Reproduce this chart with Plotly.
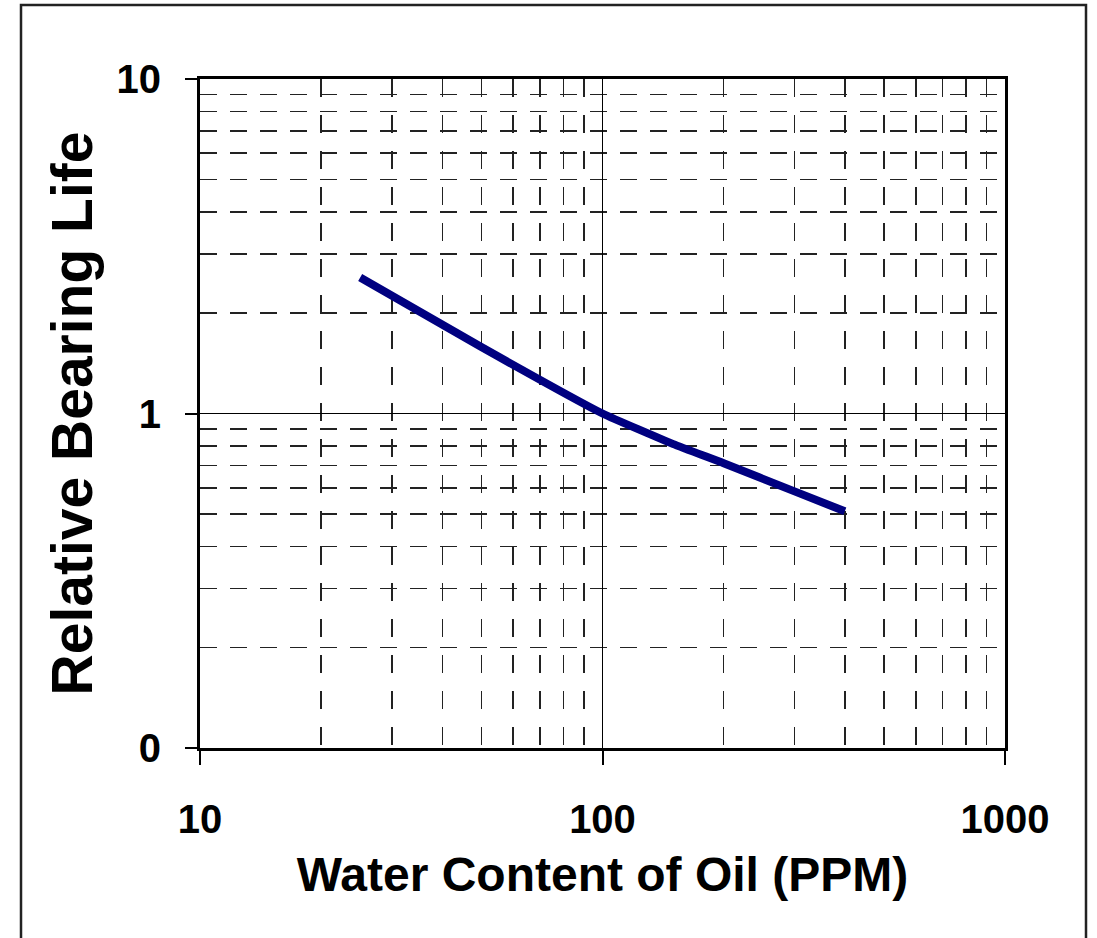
import plotly.graph_objects as go

# Data (log-log)
water_ppm = [25, 50, 100, 150, 200, 300, 400]
relative_life = [2.55, 1.58, 1.0, 0.81, 0.71, 0.585, 0.51]

x_tickvals = [10, 100, 1000]
x_ticktext = ["10", "100", "1000"]
y_tickvals = [0.1, 1, 10]
y_ticktext = ["0", "1", "10"]

x_minor = [m * d for d in (10, 100) for m in range(2, 10)]
y_minor = [m * d for d in (0.1, 1) for m in range(2, 10)]

FONT = "Liberation Sans, Arial, sans-serif"

fig = go.Figure()
fig.add_trace(go.Scatter(
    x=water_ppm, y=relative_life, mode="lines",
    line=dict(color="#000080", width=8, shape="spline", smoothing=0.4),
    showlegend=False, hoverinfo="skip",
))

W, H = 1097, 938
L, R, T, B = 200, 1005, 79, 748
pw, ph = R - L, B - T

fig.update_layout(
    width=W, height=H,
    margin=dict(l=L, r=W - R, t=T, b=H - B, autoexpand=False),
    paper_bgcolor="white", plot_bgcolor="white",
    font=dict(family=FONT, color="black"),
    showlegend=False,
)

fig.update_xaxes(
    type="log", range=[1, 3],
    tickmode="array", tickvals=x_tickvals, ticktext=x_ticktext,
    tickfont=dict(size=40, family=FONT, weight="bold"),
    ticks="outside", ticklen=14, tickwidth=2, tickcolor="black",
    ticklabelstandoff=20,
    showline=True, linewidth=3, linecolor="black", mirror=True,
    showgrid=True, gridcolor="black", gridwidth=1.3,
    minor=dict(tickmode="array", tickvals=x_minor, ticks="", showgrid=True,
               gridcolor="#222", gridwidth=1.6, griddash="18px,18px"),
    title=dict(text="Water Content of Oil (PPM)",
               font=dict(size=48, family=FONT, weight="bold"), standoff=18),
    zeroline=False, automargin=False,
)

fig.update_yaxes(
    type="log", range=[-1, 1],
    tickmode="array", tickvals=y_tickvals, ticktext=y_ticktext,
    tickfont=dict(size=40, family=FONT, weight="bold"),
    ticks="outside", ticklen=12, tickwidth=2, tickcolor="black",
    ticklabelstandoff=16,
    showline=True, linewidth=3, linecolor="black", mirror=True,
    showgrid=True, gridcolor="black", gridwidth=1.3,
    minor=dict(tickmode="array", tickvals=y_minor, ticks="", showgrid=True,
               gridcolor="#222", gridwidth=1.6, griddash="17px,13px"),
    title=dict(text="Relative Bearing Life",
               font=dict(size=57, family=FONT, weight="bold"), standoff=6),
    zeroline=False, automargin=False,
)

# outer frame around the whole chart
fig.add_shape(
    type="rect", xref="paper", yref="paper",
    x0=(21 - L) / pw, x1=(1086 - L) / pw,
    y0=(B - 950) / ph, y1=(B - 5) / ph,
    line=dict(color="#222", width=2.5), fillcolor="rgba(0,0,0,0)",
    layer="below",
)

fig.write_html(
    "out.html",
    config={"displayModeBar": False, "staticPlot": True},
    post_script="document.body.style.margin='0';document.body.style.overflow='hidden';",
)
